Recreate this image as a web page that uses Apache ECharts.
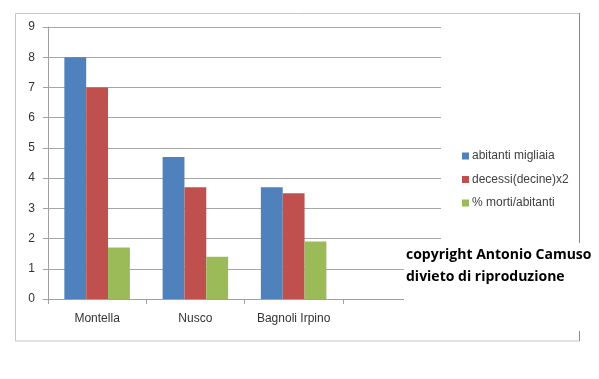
<!DOCTYPE html>
<html><head><meta charset="utf-8">
<script src="https://cdn.jsdelivr.net/npm/echarts@6/dist/echarts.min.js"></script>
<style>html,body{margin:0;padding:0;background:#fff}#c{width:599px;height:379px}</style>
</head><body><div id="c"></div>
<script>
var categories = ['Montella', 'Nusco', 'Bagnoli Irpino', ''];
var seriesNames = ['abitanti migliaia', 'decessi(decine)x2', '% morti/abitanti'];
var abitanti = [8, 4.7, 3.7, null];
var decessi = [7, 3.7, 3.5, null];
var morti = [1.7, 1.4, 1.9, null];
var yTicks = [0, 1, 2, 3, 4, 5, 6, 7, 8, 9];
var copyrightLines = ['copyright Antonio Camuso', 'divieto di riproduzione'];

var colors = ['#4f81bd', '#c0504d', '#9bbb59'];
var font = 'Liberation Sans';
var chart = echarts.init(document.getElementById('c'), null, {renderer: 'canvas'});
function bar(name, data, color) {
  return {name: name, type: 'bar', data: data, barGap: '0%', barCategoryGap: '33.3%',
    itemStyle: {color: color}, animation: false};
}
chart.setOption({
  animation: false,
  grid: {left: 48, right: 158, top: 27, bottom: 80},
  legend: {orient: 'vertical', left: 457, top: 145, itemWidth: 7, itemHeight: 7, itemGap: 11.5,
    icon: 'rect', data: seriesNames,
    textStyle: {fontFamily: font, fontSize: 12, color: '#404040', padding: [0, 0, 0, -2]}},
  xAxis: {type: 'category', data: categories,
    axisLine: {lineStyle: {color: '#a0a0a0'}},
    axisTick: {show: true, length: 5, lineStyle: {color: '#a0a0a0'}},
    axisLabel: {fontFamily: font, fontSize: 12, color: '#333', margin: 14}},
  yAxis: {type: 'value', min: yTicks[0], max: yTicks[yTicks.length - 1], interval: 1,
    axisLine: {show: true, lineStyle: {color: '#a0a0a0'}},
    axisTick: {show: true, length: 5, lineStyle: {color: '#a0a0a0'}},
    splitLine: {lineStyle: {color: '#a6a6a6'}},
    axisLabel: {fontFamily: font, fontSize: 12, color: '#333', margin: 13}},
  series: [bar(seriesNames[0], abitanti, colors[0]), bar(seriesNames[1], decessi, colors[1]), bar(seriesNames[2], morti, colors[2])],
  graphic: [
    {type: 'rect', z: -10, shape: {x: 15.5, y: 13.5, width: 564, height: 327.5}, style: {fill: 'none', stroke: '#c6c6c6', lineWidth: 1}},
    {type: 'line', z: -9, shape: {x1: 579.5, y1: 13, x2: 579.5, y2: 341}, style: {stroke: '#8a8a8a', lineWidth: 1}},
    {type: 'rect', z: 100, shape: {x: 404, y: 243, width: 195, height: 88}, style: {fill: '#fff'}},
    {type: 'text', z: 101, left: 406, top: 244, style: {text: copyrightLines.join('\n'), font: 'bold 14px "Open Sans"', fill: '#000', lineHeight: 22}}
  ]
});
</script></body></html>
